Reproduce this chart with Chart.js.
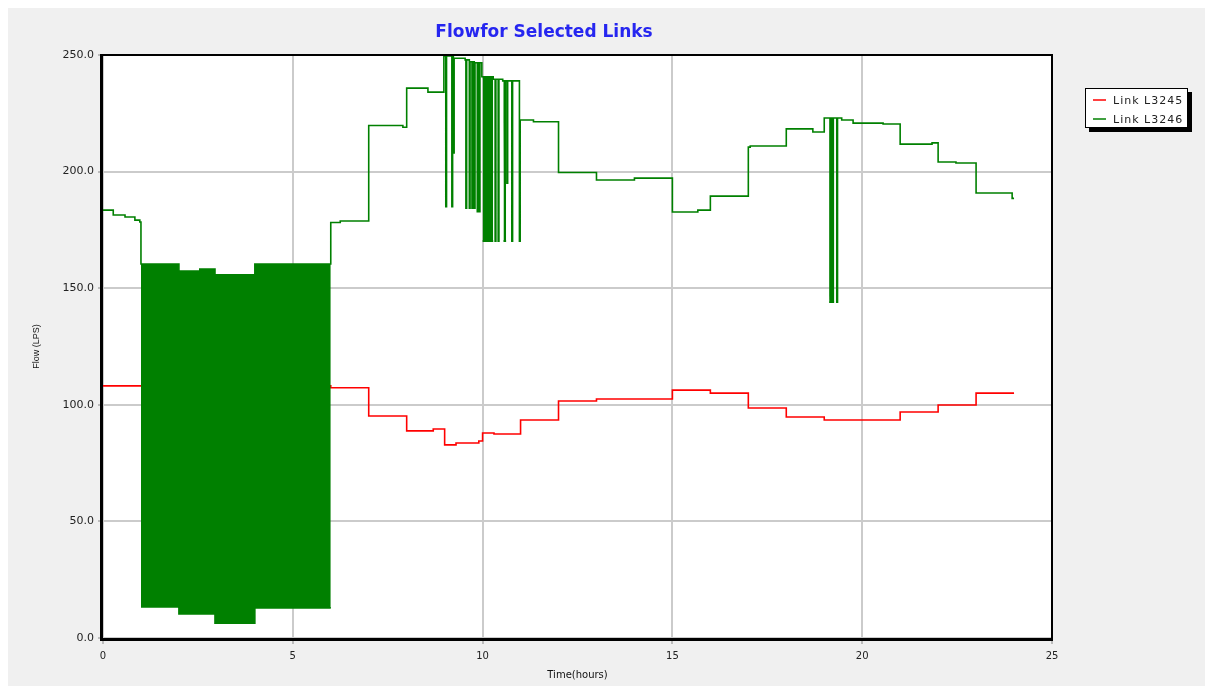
<!DOCTYPE html>
<html lang="en">
<head>
<meta charset="UTF-8">
<title>Flow for Selected Links</title>
<script src="https://cdn.jsdelivr.net/npm/chart.js"></script>
<style>
  html, body { margin: 0; padding: 0; background: #fff; }
  #panel { position: absolute; left: 8px; top: 8px; width: 1197px; height: 678px; background: #f0f0f0; }
  #wrap { position: absolute; left: 0; top: 0; width: 1212px; height: 691px; }
</style>
</head>
<body>
<div id="panel"></div>
<div id="wrap"><canvas id="flowChart" width="1212" height="691"></canvas></div>
<script>
// Link L3245 (red), step values: each flow holds from its time to the next one
const redTimes = [0, 6.0, 7.0, 8.0, 8.7, 9.0, 9.3, 9.9, 10.0, 10.3, 11.0, 12.0, 13.0, 15.0, 16.0, 17.0, 18.0, 19.0, 21.0, 22.0, 23.0, 24.0];
const redFlows = [108.1, 107.3, 95.2, 88.8, 89.6, 82.8, 83.6, 84.5, 87.9, 87.5, 93.5, 101.6, 102.5, 106.3, 105.0, 98.6, 94.8, 93.5, 96.9, 99.9, 105.0, 105.0];

// Link L3246 (green), upper trace incl. the short spikes
const greenTimes = [0, 0.27, 0.58, 0.84, 0.97, 1.0, 2.0, 2.55, 2.95, 4.0, 6.0, 6.0, 6.25, 7.0, 7.9, 8.0, 8.56, 8.98,
  9.03, 9.05, 9.19, 9.21, 9.23, 9.25, 9.54, 9.56, 9.58, 9.65, 9.67, 9.72, 9.74, 9.78, 9.80, 9.86, 9.88, 9.91, 9.93,
  9.98, 10.28, 10.33, 10.35, 10.41, 10.43, 10.53, 10.64, 10.66, 10.77, 10.79, 10.97, 10.99,
  11.34, 12.0, 13.0, 14.0, 15.0, 15.67, 16.0, 17.0, 17.05, 18.0, 18.7, 19.0, 19.33, 19.35, 19.46, 19.76,
  20.55, 21.0, 21.84, 22.0, 22.47, 23.0, 23.95, 24.0];
const greenFlows = [183.5, 181.4, 180.5, 179.2, 178.4, 160.4, 157.4, 158.2, 155.7, 160.4, 160.4, 178.2, 178.8, 219.8, 219.0, 235.8, 234.1, 249.6,
  185.0, 249.6, 185.0, 249.6, 208.0, 248.6, 247.9, 184.3, 247.9, 184.3, 247.1, 184.3, 247.1, 184.3, 246.7, 182.8, 246.7, 182.8, 246.7,
  240.7, 239.6, 170.2, 239.6, 170.2, 239.6, 238.9, 195.0, 238.9, 170.2, 238.9, 170.2, 222.1,
  221.4, 199.6, 196.4, 197.2, 182.7, 183.5, 189.5, 210.5, 211.0, 218.3, 217.0, 223.0, 144.0, 223.0, 222.1, 220.8,
  220.4, 211.8, 212.3, 204.1, 203.7, 190.8, 188.5, 188.5];

// lower edge of the dense oscillation bands of L3246 (null = gap)
const bandTimes = [1.0, 2.0, 2.95, 4.0, 6.0, 6.0, 10.0, 10.28, 10.28, 10.55, 10.62, 10.62, 19.13, 19.26];
const bandLows  = [13.3, 10.3, 6.4, 12.9, 12.9, null, 170.2, 170.2, null, 170.2, 170.2, null, 144.0, 144.0];

const xTicks = [0, 5, 10, 15, 20, 25];
const yTicks = [0, 50, 100, 150, 200, 250];

const RED = '#ff0000';
const GREEN = '#008000';

function pts(ts, vs) {
  return ts.map((t, i) => ({ x: t, y: vs[i] }));
}

const framePlugin = {
  id: 'frame',
  beforeDraw(chart) {
    const { ctx, chartArea: a } = chart;
    ctx.save();
    ctx.fillStyle = '#ffffff';
    ctx.fillRect(a.left, a.top, a.right - a.left, a.bottom - a.top);
    ctx.restore();
  },
  afterDatasetsDraw(chart) {
    const { ctx, chartArea: a } = chart;
    ctx.save();
    ctx.fillStyle = '#000';
    ctx.fillRect(a.left - 3, a.top - 1, 3, a.bottom - a.top + 4);
    ctx.fillRect(a.left - 3, a.bottom, a.right - a.left + 4, 3);
    ctx.fillRect(a.left - 3, a.top - 1, a.right - a.left + 4, 2);
    ctx.fillRect(a.right - 1, a.top - 1, 2, a.bottom - a.top + 4);
    ctx.restore();
  },
  afterDraw(chart) {
    const ctx = chart.ctx;
    ctx.save();
    // title
    ctx.font = 'bold 17px "DejaVu Sans"';
    ctx.fillStyle = '#2626f0';
    ctx.textAlign = 'center';
    ctx.textBaseline = 'middle';
    ctx.fillText('Flowfor Selected Links', 544, 33);

    // legend box with drop shadow
    const bx = 1085, by = 88, bw = 103, bh = 40;
    ctx.fillStyle = '#000';
    ctx.fillRect(bx + 4, by + 4, bw, bh);
    ctx.fillStyle = '#fff';
    ctx.fillRect(bx, by, bw, bh);
    ctx.strokeStyle = '#000';
    ctx.lineWidth = 1;
    ctx.strokeRect(bx + 0.5, by + 0.5, bw - 1, bh - 1);
    const items = chart.data.datasets.filter(d => d.legendRank !== undefined)
      .sort((p, q) => p.legendRank - q.legendRank);
    ctx.font = '11px "DejaVu Sans"';
    ctx.letterSpacing = '1px';
    ctx.textAlign = 'left';
    items.forEach((d, i) => {
      const y = by + 12 + i * 19;
      ctx.strokeStyle = d.borderColor;
      ctx.lineWidth = 1.5;
      ctx.beginPath();
      ctx.moveTo(bx + 8, y);
      ctx.lineTo(bx + 21, y);
      ctx.stroke();
      ctx.fillStyle = '#222';
      ctx.fillText(d.label, bx + 28, y + 1);
    });
    ctx.restore();
  }
};

const chart = new Chart(document.getElementById('flowChart'), {
  type: 'line',
  data: {
    datasets: [
      {
        label: 'Link L3246',
        legendRank: 1,
        data: pts(greenTimes, greenFlows),
        borderColor: GREEN,
        backgroundColor: GREEN,
        borderWidth: 1.6,
        stepped: true,
        pointRadius: 0,
        fill: false
      },
      {
        label: 'L3246 band',
        data: pts(bandTimes, bandLows),
        borderColor: GREEN,
        backgroundColor: GREEN,
        borderWidth: 1.6,
        stepped: true,
        pointRadius: 0,
        spanGaps: false,
        fill: 0
      },
      {
        label: 'Link L3245',
        legendRank: 0,
        data: pts(redTimes, redFlows),
        borderColor: RED,
        backgroundColor: RED,
        borderWidth: 1.6,
        stepped: true,
        pointRadius: 0,
        fill: false
      }
    ]
  },
  options: {
    responsive: false,
    animation: false,
    devicePixelRatio: 1,
    layout: { padding: { top: 55, right: 160, bottom: 0, left: 0 } },
    plugins: {
      legend: { display: false },
      title: { display: false },
      tooltip: { enabled: false }
    },
    scales: {
      x: {
        type: 'linear',
        min: 0,
        max: 25,
        afterFit: s => { s.height = 53; },
        afterBuildTicks: s => { s.ticks = xTicks.map(v => ({ value: v })); },
        border: { display: false },
        grid: { color: '#cbcbcb', lineWidth: 2, tickColor: '#888', tickWidth: 1, tickLength: 6 },
        ticks: { padding: 6, color: '#222', font: { family: 'DejaVu Sans', size: 10 }, maxRotation: 0 },
        title: {
          display: true,
          text: 'Time(hours)',
          color: '#111',
          font: { family: 'DejaVu Sans', size: 10 },
          padding: { top: 0, bottom: 10 }
        }
      },
      y: {
        min: 0,
        max: 250,
        afterFit: s => { s.width = 103; },
        afterBuildTicks: s => { s.ticks = yTicks.map(v => ({ value: v })); },
        border: { display: false },
        grid: { color: '#cbcbcb', lineWidth: 2, tickColor: '#888', tickWidth: 1, tickLength: 5 },
        ticks: {
          padding: 4,
          color: '#222',
          font: { family: 'DejaVu Sans', size: 11 },
          callback: v => Number(v).toFixed(1)
        },
        title: {
          display: true,
          text: 'Flow (LPS)',
          color: '#111',
          font: { family: 'Liberation Sans', size: 9 },
          padding: { top: 31, bottom: 0 }
        }
      }
    }
  },
  plugins: [framePlugin]
});
</script>
</body>
</html>
